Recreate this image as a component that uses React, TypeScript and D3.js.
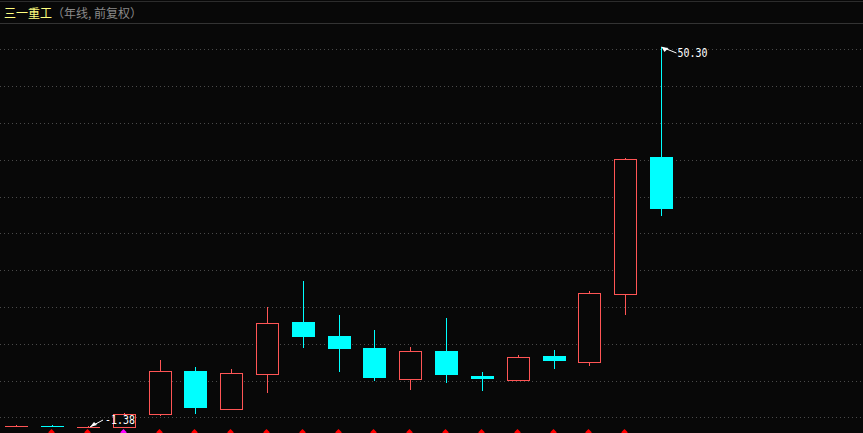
import React from "react";
import * as d3 from "d3";

// ---- data (annual candles, forward-adjusted) ----
const years = [
  "2003", "2004", "2005", "2006", "2007", "2008", "2009", "2010", "2011", "2012",
  "2013", "2014", "2015", "2016", "2017", "2018", "2019", "2020", "2021",
];
const opens = [
  -1.2, -1.18, -1.33, -1.31, 0.49, 6.29, 1.17, 5.92, 12.95, 11.05,
  9.42, 5.24, 9.01, 5.61, 5.07, 8.33, 7.55, 16.79, 35.37,
];
const highs = [
  -1.05, -0.99, -1.18, 0.54, 7.79, 6.83, 6.56, 14.99, 18.51, 13.9,
  11.86, 9.55, 13.49, 6.15, 8.46, 9.14, 17.2, 35.23, 50.3,
];
const lows = [
  -1.22, -1.22, -1.38, -1.35, 0.31, 0.58, 1.1, 3.44, 9.59, 6.33,
  5.11, 3.89, 4.8, 3.71, 5.07, 6.7, 7.11, 14.08, 27.49,
];
const closes = [
  -1.18, -1.22, -1.3, 0.41, 6.25, 1.26, 5.98, 12.81, 10.95, 9.28,
  5.34, 9.01, 5.75, 5.2, 8.19, 7.65, 16.93, 35.09, 28.3,
];
const gridValues = [0, 5, 10, 15, 20, 25, 30, 35, 40, 45, 50];
const signalYears = [
  "2004", "2005", "2006", "2007", "2008", "2009", "2010", "2011", "2012",
  "2013", "2014", "2015", "2016", "2017", "2018", "2019", "2020",
];
const signalKinds = [
  "a", "a", "b", "a", "a", "a", "a", "a", "a",
  "a", "a", "a", "a", "a", "a", "a", "a",
];
const stockName = "三一重工";
const subtitleA = "（年线,";
const subtitleB = "前复权）";

// ---- style ----
const W = 863;
const H = 433;
const BG = "#080808";
const UP = "#ff5555";
const DOWN = "#00ffff";
const GRID = "#4a4a4a";
const MONO = "'DejaVu Sans Mono', 'Liberation Mono', monospace";

export default function App() {
  const x = d3.scalePoint<string>().domain(years).range([16.3, 661]);
  const y = d3.scaleLinear().domain([0, 50]).range([417.3, 49.3]);

  const candles = years.map((yr, i) => ({
    yr,
    o: opens[i],
    h: highs[i],
    l: lows[i],
    c: closes[i],
  }));

  const hiIdx = d3.maxIndex(highs);
  const loIdx = d3.minIndex(lows);
  const hiX = Math.round(x(years[hiIdx]) as number) + 0.5;
  const hiY = Math.round(y(highs[hiIdx]));
  const loX = Math.round(x(years[loIdx]) as number) + 2;
  const loY = Math.round(y(lows[loIdx]));

  return (
    <svg
      width={W}
      height={H}
      style={{ position: "absolute", left: 0, top: 0, display: "block", background: BG }}
    >
      <rect x={0} y={0} width={W} height={H} fill={BG} />
      {/* header */}
      <line x1={0} x2={W} y1={1.5} y2={1.5} stroke="#2c2c2c" />
      <line x1={0} x2={W} y1={23.5} y2={23.5} stroke="#333333" />
      <text
        x={4}
        y={18}
        fontFamily="'Noto Sans CJK SC', sans-serif"
        fontSize={12}
        fill="#ffff80"
      >
        {stockName}
      </text>
      <text
        x={52}
        y={18}
        fontFamily="'Noto Sans CJK SC', sans-serif"
        fontSize={12}
        fill="#8a8a8a"
      >
        {subtitleA}
      </text>
      <text
        x={94}
        y={18}
        fontFamily="'Noto Sans CJK SC', sans-serif"
        fontSize={12}
        fill="#8a8a8a"
      >
        {subtitleB}
      </text>

      {/* grid */}
      {gridValues.map((v) => (
        <line
          key={v}
          x1={0}
          x2={W}
          y1={Math.round(y(v)) + 0.5}
          y2={Math.round(y(v)) + 0.5}
          stroke={GRID}
          strokeDasharray="1 3"
        />
      ))}

      {/* candles */}
      {candles.map((d) => {
        const c = Math.round(x(d.yr) as number);
        const up = d.c >= d.o;
        const col = up ? UP : DOWN;
        const top = Math.round(y(Math.max(d.o, d.c)));
        const bot = Math.round(y(Math.min(d.o, d.c)));
        const left = c - 11;
        return (
          <g key={d.yr}>
            <line
              x1={c + 0.5}
              x2={c + 0.5}
              y1={Math.round(y(d.h))}
              y2={Math.round(y(d.l)) + 1}
              stroke={col}
            />
            {up ? (
              bot - top >= 2 ? (
                <rect
                  x={left + 0.5}
                  y={top + 0.5}
                  width={22}
                  height={bot - top}
                  fill={BG}
                  stroke={col}
                />
              ) : (
                <rect x={left} y={top} width={23} height={1} fill={col} />
              )
            ) : (
              <rect
                x={left}
                y={top}
                width={23}
                height={Math.max(1, bot - top)}
                fill={col}
              />
            )}
          </g>
        );
      })}

      {/* max label */}
      <line x1={hiX} y1={hiY} x2={hiX + 15} y2={hiY + 6} stroke="#ffffff" />
      <polygon
        points={`${hiX},${hiY} ${hiX + 7},${hiY + 1} ${hiX + 3},${hiY + 5}`}
        fill="#ffffff"
      />
      <text
        x={hiX + 16}
        y={hiY + 10}
        fontFamily={MONO}
        fontSize={12}
        textLength={30}
        lengthAdjust="spacingAndGlyphs"
        fill="#ffffff"
      >
        {highs[hiIdx].toFixed(2)}
      </text>

      {/* min label */}
      <line x1={loX} y1={loY} x2={loX + 13} y2={loY - 7} stroke="#ffffff" />
      <polygon
        points={`${loX},${loY} ${loX + 4},${loY - 5} ${loX + 7},${loY - 2}`}
        fill="#ffffff"
      />
      <text
        x={loX + 15}
        y={loY - 3}
        fontFamily={MONO}
        fontSize={12}
        textLength={30}
        lengthAdjust="spacingAndGlyphs"
        fill="#ffffff"
      >
        {lows[loIdx].toFixed(2)}
      </text>

      {/* bottom signal markers */}
      {signalYears.map((yr, i) => {
        const c = Math.round(x(yr) as number) - 0.5;
        return (
          <polygon
            key={yr}
            points={`${c},429 ${c + 3},432 ${c + 3},434 ${c - 3},434 ${c - 3},432`}
            fill={signalKinds[i] === "b" ? "#ff00ff" : "#ff0000"}
          />
        );
      })}
    </svg>
  );
}
